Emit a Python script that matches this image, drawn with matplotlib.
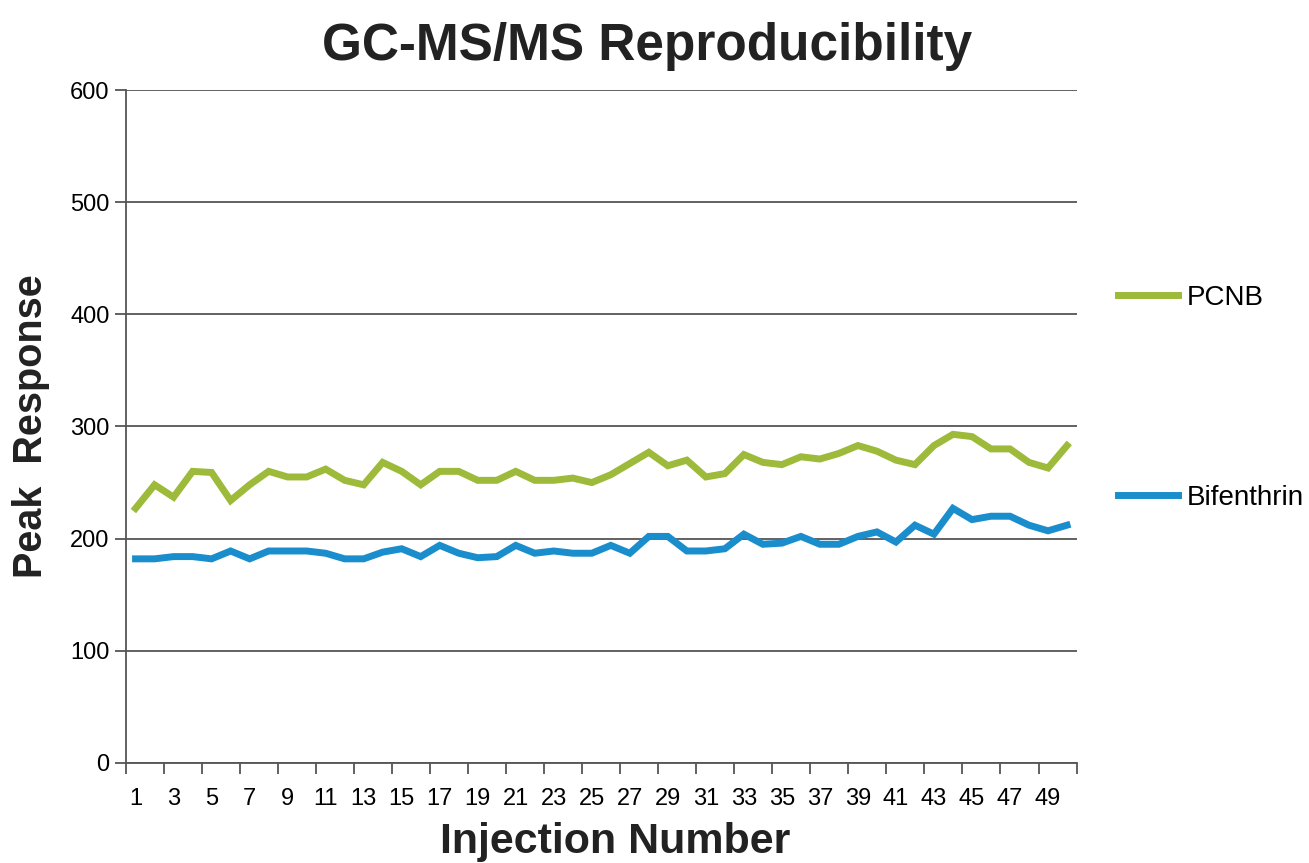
import matplotlib.pyplot as plt
import numpy as np

plt.rcParams['font.family'] = ['Liberation Sans', 'DejaVu Sans']

# injection numbers 1..50
injections = np.arange(1, 51)

pcnb = [227, 248, 237, 260, 259, 234, 248, 260, 255, 255,
        262, 252, 248, 268, 260, 248, 260, 260, 252, 252,
        260, 252, 252, 254, 250, 257, 267, 277, 265, 270,
        255, 258, 275, 268, 266, 273, 271, 276, 283, 278,
        270, 266, 283, 293, 291, 280, 280, 268, 263, 283]

bifenthrin = [182, 182, 184, 184, 182, 189, 182, 189, 189, 189,
              187, 182, 182, 188, 191, 184, 194, 187, 183, 184,
              194, 187, 189, 187, 187, 194, 187, 202, 202, 189,
              189, 191, 204, 195, 196, 202, 195, 195, 202, 206,
              197, 212, 204, 227, 217, 220, 220, 212, 207, 212]

tick_labels = [str(i) for i in range(1, 50, 2)]

green = '#9DBA3A'
blue = '#1A8DCC'
grey = '#555555'

fig = plt.figure(figsize=(13.09, 8.63), dpi=100)
ax = fig.add_axes([0.0963, 0.1159, 0.7261, 0.7798])

ax.plot(injections, pcnb, color=green, lw=5, label='PCNB', solid_joinstyle='miter')
ax.plot(injections, bifenthrin, color=blue, lw=5, label='Bifenthrin', solid_joinstyle='miter')

ax.set_xlim(0.5, 50.5)
ax.set_ylim(0, 600)
ax.set_yticks(range(0, 601, 100))
ax.yaxis.grid(True, color=grey, lw=1.3)
ax.set_axisbelow(True)

# tick marks between categories, labels on every other category
ax.set_xticks(np.arange(0.5, 51, 2))
ax.set_xticklabels([])
ax.set_xticks(range(1, 50, 2), minor=True)
ax.set_xticklabels(tick_labels, minor=True)
ax.tick_params(axis='x', which='major', length=8, width=1.3, color=grey, direction='out')
ax.tick_params(axis='x', which='minor', length=0, labelsize=17, pad=18)
ax.tick_params(axis='y', length=8, width=1.3, color=grey, labelsize=17, pad=4)

for s in ['top', 'right']:
    ax.spines[s].set_visible(False)
for s in ['left', 'bottom']:
    ax.spines[s].set_color(grey)
    ax.spines[s].set_linewidth(1.3)

fig.text(0.494, 0.931, 'GC-MS/MS Reproducibility', ha='center', va='baseline',
         fontsize=37, fontweight='bold', color='#222222')
fig.text(0.47, 0.012, 'Injection Number', ha='center', va='baseline',
         fontsize=31, fontweight='bold', color='#222222')
fig.text(0.024, 0.506, 'Peak  Response', ha='center', va='center', rotation=90,
         fontsize=28.5, fontweight='bold', color='#222222')

fig.legend(loc='center left', bbox_to_anchor=(0.854, 0.5388), frameon=False,
           fontsize=20, handlelength=2.16, handletextpad=0.32, labelspacing=6.26,
           borderpad=0, borderaxespad=0)

plt.savefig('out.png', dpi=100)
